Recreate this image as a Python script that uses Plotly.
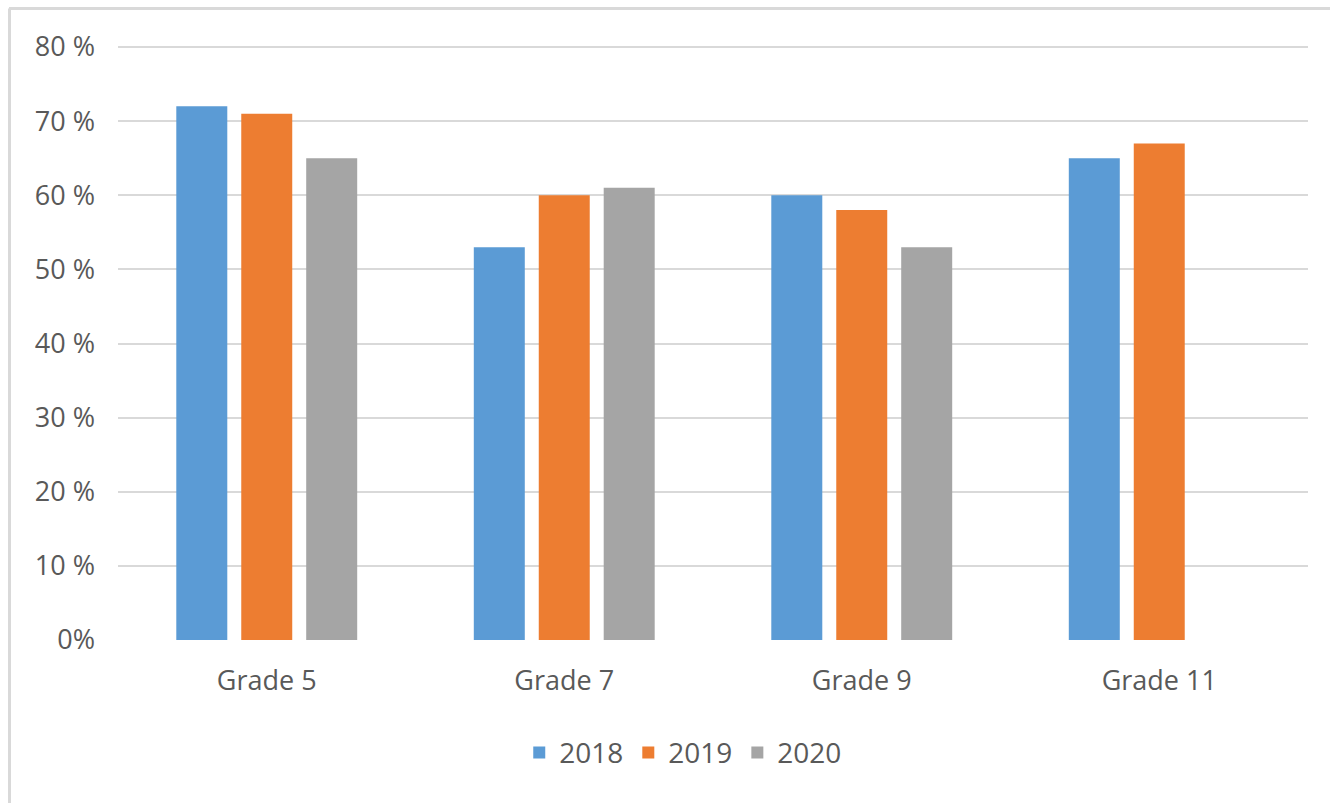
import plotly.graph_objects as go

categories = ["Grade 5", "Grade 7", "Grade 9", "Grade 11"]
series_names = ["2018", "2019", "2020"]
values_2018 = [0.72, 0.53, 0.60, 0.65]
values_2019 = [0.71, 0.60, 0.58, 0.67]
values_2020 = [0.65, 0.61, 0.53, None]
colors = ["#5B9BD5", "#ED7D31", "#A5A5A5"]
tick_vals = [0, 0.1, 0.2, 0.3, 0.4, 0.5, 0.6, 0.7, 0.8]
tick_text = ["0%", "10 %", "20 %", "30 %", "40 %", "50 %", "60 %", "70 %", "80 %"]

fig = go.Figure()
for name, vals, col in zip(series_names, [values_2018, values_2019, values_2020], colors):
    fig.add_trace(go.Bar(x=categories, y=vals, name=name, marker=dict(color=col, line=dict(width=0))))

narrow = "Liberation Sans Narrow, Arial Narrow, Open Sans, sans-serif"

fig.update_layout(
    width=1330, height=803,
    margin=dict(l=118, r=22, t=46, b=163),
    paper_bgcolor="white", plot_bgcolor="white",
    barmode="group", bargap=0.345, bargroupgap=0.215,
    showlegend=True,
    legend=dict(orientation="h", x=0.475, xanchor="center", y=-0.19, yanchor="middle",
                font=dict(family=narrow, size=28, color="#595959"),
                itemwidth=30, traceorder="normal"),
    xaxis=dict(showgrid=False, showline=False, ticks="", ticklabelstandoff=22,
               tickfont=dict(family="Open Sans, sans-serif", size=27, color="#595959")),
    yaxis=dict(range=[0, 0.8014], tickvals=tick_vals, ticktext=tick_text,
               showgrid=True, gridcolor="#D9D9D9", gridwidth=1.5, zeroline=False,
               showline=False, ticks="", ticklabelstandoff=22,
               tickfont=dict(family=narrow, size=27, color="#595959")),
    shapes=[
        dict(type="line", xref="paper", yref="paper", x0=(9 - 118) / 1190, x1=1.02,
             y0=1 + (46 - 8.5) / 594, y1=1 + (46 - 8.5) / 594, line=dict(color="#D9D9D9", width=3)),
        dict(type="line", xref="paper", yref="paper", x0=(9.5 - 118) / 1190, x1=(9.5 - 118) / 1190,
             y0=1 + (46 - 8.5) / 594, y1=-0.3, line=dict(color="#D9D9D9", width=3)),
    ],
)

fig.write_html("out.html", config={"displayModeBar": False},
               post_script="document.body.style.margin='0';")
